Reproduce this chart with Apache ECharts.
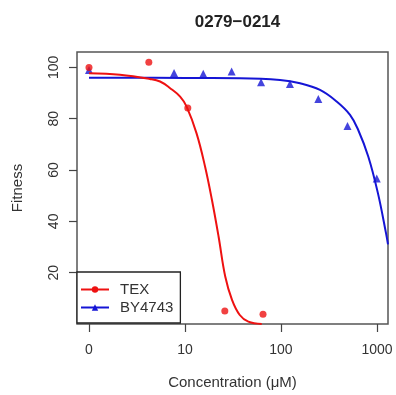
<!DOCTYPE html>
<html>
<head>
<meta charset="utf-8">
<script src="https://cdn.jsdelivr.net/npm/echarts@6/dist/echarts.min.js"></script>
<style>
  html, body { margin: 0; padding: 0; background: #fff; }
  #chart { width: 396px; height: 395px; }
</style>
</head>
<body>
<div id="chart"></div>
<script>
// measured points (concentration in uM, 0 = untreated)
const texConc = [0, 4.2, 10.7, 26, 65];
const texFitness = [100, 102, 84.2, 5.1, 3.8];
const byConc = [0, 7.7, 15.5, 30.6, 62, 124, 245, 493, 995];
const byFitness = [99, 97.8, 97.5, 98.4, 94.2, 93.5, 87.7, 77.2, 56.7];

// fitted curves
const texFitConc = [0, 2.1, 4.3, 5.5, 7.0, 8.9, 10.4, 13.2, 16.2, 19.1, 22.4, 26.3, 30.9, 37.2, 45.7, 63];
const texFitVal = [97.7, 97.1, 95.5, 94.5, 91.9, 88.6, 84.7, 74.3, 61.3, 48.3, 34.0, 18.4, 9.4, 3.5, 0.9, 0];
const byFitConc = [0, 10, 37.4, 97.7, 158, 255, 380, 524, 638, 813, 1023, 1242, 1303];
const byFitVal = [96.0, 95.9, 95.8, 95.1, 93.8, 91.2, 86.7, 81.5, 75.6, 65.2, 51.0, 35.4, 31];

const xTicks = [1, 10, 100, 1000];
const yTicks = [20, 40, 60, 80, 100];

const RED = '#ee1111';
const BLUE = '#1515d5';

// zero concentration sits at the "1" position on the log axis, labelled 0
const toX = c => (c === 0 ? 1 : c);
const pairs = (xs, ys) => xs.map((c, i) => [toX(c), ys[i]]);

const chart = echarts.init(document.getElementById('chart'), null, {renderer: 'canvas'});
const labelFont = {fontFamily: 'Liberation Sans, Arial, sans-serif', color: '#333'};

chart.setOption({
  animation: false,
  title: {
    text: '0279\u22120214',
    left: 232.5,
    top: 9,
    textAlign: 'center',
    textStyle: {fontSize: 17, fontWeight: 'bold', color: '#222', fontFamily: labelFont.fontFamily},
  },
  grid: {
    left: 77, right: 8, top: 52, bottom: 71,
    show: true,
    borderColor: '#555',
    borderWidth: 1.5,
  },
  legend: {
    data: ['TEX', 'BY4743'],
    orient: 'vertical',
    left: 77,
    top: 272,
    itemWidth: 28,
    itemHeight: 8,
    itemGap: 3,
    padding: [10, 7, 8, 3],
    borderColor: '#222',
    borderWidth: 1.3,
    backgroundColor: '#fff',
    textStyle: {fontSize: 15, padding: [0, 0, 0, 6], ...labelFont},
  },
  xAxis: {
    type: 'log',
    logBase: 10,
    min: 0.75,
    max: 1303,
    name: 'Concentration (\u03bcM)',
    nameLocation: 'middle',
    nameGap: 51,
    nameTextStyle: {fontSize: 15, ...labelFont},
    axisLine: {show: false},
    axisTick: {show: true, length: 8, lineStyle: {color: '#444', width: 1.2}, customValues: xTicks},
    axisLabel: {
      fontSize: 14, ...labelFont, margin: 19,
      customValues: xTicks,
      formatter: v => (Math.abs(v - 1) < 1e-9 ? '0' : String(Math.round(v))),
    },
    splitLine: {show: false},
    minorTick: {show: false},
  },
  yAxis: {
    type: 'value',
    min: 0,
    max: 106,
    name: 'Fitness',
    nameLocation: 'middle',
    nameGap: 52,
    nameTextStyle: {fontSize: 15, ...labelFont},
    axisLine: {show: false},
    axisTick: {show: true, length: 8, lineStyle: {color: '#444', width: 1.2}, customValues: yTicks},
    axisLabel: {fontSize: 14, ...labelFont, rotate: 90, margin: 16, customValues: yTicks},
    splitLine: {show: false},
  },
  series: [
    {
      name: 'BY4743',
      type: 'line',
      data: pairs(byFitConc, byFitVal),
      smooth: 0.4,
      symbol: 'triangle',
      symbolSize: 8,
      showSymbol: false,
      lineStyle: {color: BLUE, width: 2},
      itemStyle: {color: BLUE},
      z: 2,
    },
    {
      name: 'BY4743',
      type: 'scatter',
      data: pairs(byConc, byFitness),
      symbol: 'triangle',
      symbolSize: 8,
      itemStyle: {color: BLUE},
      z: 3,
    },
    {
      name: 'TEX',
      type: 'line',
      data: pairs(texFitConc, texFitVal),
      smooth: 0.4,
      symbol: 'circle',
      symbolSize: 6,
      showSymbol: false,
      lineStyle: {color: RED, width: 2},
      itemStyle: {color: RED},
      z: 4,
    },
    {
      name: 'TEX',
      type: 'scatter',
      data: pairs(texConc, texFitness),
      symbol: 'circle',
      symbolSize: 7,
      itemStyle: {color: RED},
      z: 5,
    },
  ],
});
</script>
</body>
</html>
